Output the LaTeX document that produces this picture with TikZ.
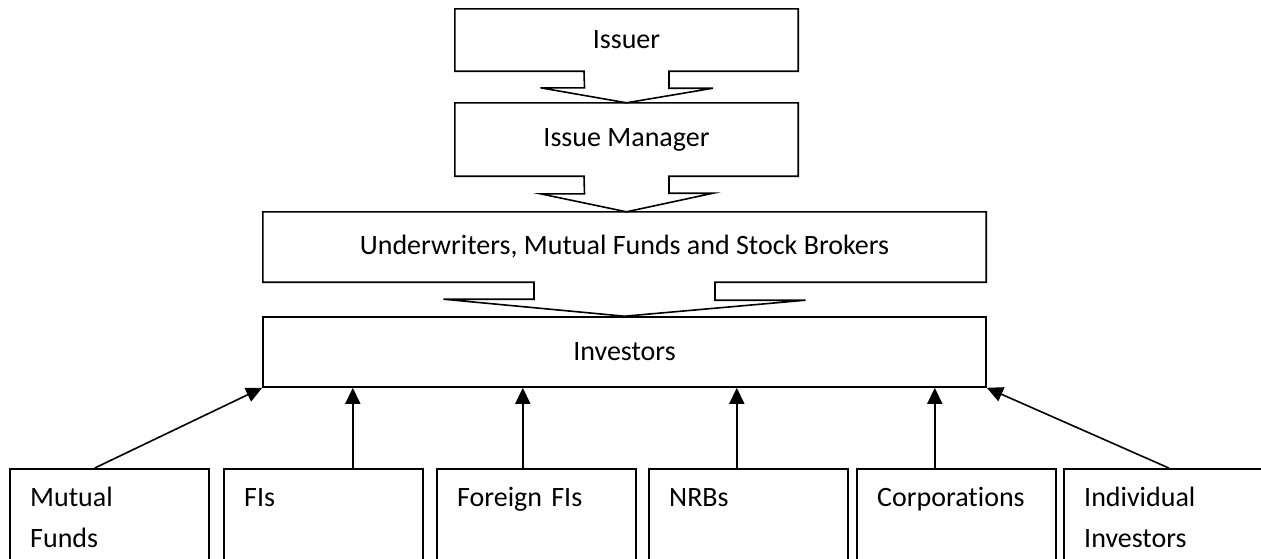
\documentclass[tikz,border=0pt]{standalone}
\usepackage{fontspec}
\setmainfont{Carlito}[Ligatures={NoCommon}]
\usetikzlibrary{arrows.meta,calc}

\begin{document}
\begin{tikzpicture}[x=1pt,y=-1pt,
    stage/.style={minimum height=70pt, minimum width=723pt, inner sep=0pt, font=\fontsize{28}{34}\selectfont},
    callout/.style={line width=1.6pt, line join=miter},
    member/.style={draw, line width=1.6pt, anchor=north west, minimum width=199pt, minimum height=110pt, inner sep=0pt},
    memtext/.style={anchor=base west, text width=170pt, align=left, inner sep=0pt, font=\fontsize{28}{41}\selectfont},
    feed/.style={line width=1.6pt, -{Triangle[length=16pt,width=15pt]}}]

        \fill[white] (0,0) rectangle (1261,558);
        \useasboundingbox (0,0) rectangle (1261,558);
        \clip (0,0) rectangle (1261,558);

        % chain of the issue
        \node[stage, minimum width=343pt, minimum height=62pt] (issuer) at (626.5,40) {Issuer};
        \node[stage, minimum width=343pt, minimum height=73pt] (manager) at (626.5,139.5) {Issue Manager};
        \node[stage] (broker) at (624.5,247) {Underwriters, Mutual Funds and Stock Brokers};
        \node[stage, draw, line width=1.6pt] (investors) at (624.5,352) {Investors};

        \draw[callout] (issuer.south west) -- (issuer.north west) -- (issuer.north east) -- (issuer.south east)
            -- ([xshift=42.5pt]issuer.south) -- ++(0,17) -- ++(44,0) -- (manager.north)
            -- ++(-86,-15) -- ++(44,0) -- ([xshift=-42.5pt]issuer.south) -- cycle;

        \draw[callout] (manager.south west) -- (manager.north west) -- (manager.north east) -- (manager.south east)
            -- ([xshift=42.5pt]manager.south) -- ++(0,17) -- ++(44,0) -- (manager.south |- broker.north)
            -- ++(-86,-18) -- ++(44,0) -- ([xshift=-42.5pt]manager.south) -- cycle;

        \draw[callout] (broker.south west) -- (broker.north west) -- (broker.north east) -- (broker.south east)
            -- ([xshift=90.5pt]broker.south) -- ++(0,18) -- ++(90.5,0) -- (investors.north)
            -- ++(-181,-17) -- ++(90.5,0) -- ([xshift=-90.5pt]broker.south) -- cycle;

        % kinds of investors
        \node[member] (mutual) at (9,468) {};
        \node[member] (fis) at (223,468) {};
        \node[member] (foreign) at (436,468) {};
        \node[member] (nrbs) at (648,468) {};
        \node[member] (corp) at (856,468) {};
        \node[member] (indiv) at (1063,468) {};

        \node[memtext] (mutualtxt) at ($(mutual.north west)+(21,38)$) {Mutual\\Funds};
        \node[memtext] (fistxt) at ($(fis.north west)+(21,38)$) {FIs};
        \node[memtext] (foreigntxt) at ($(foreign.north west)+(21,38)$) {Foreign FIs};
        \node[memtext] (nrbstxt) at ($(nrbs.north west)+(21,38)$) {NRBs};
        \node[memtext] (corptxt) at ($(corp.north west)+(21,38)$) {Corporations};
        \node[memtext] (indivtxt) at ($(indiv.north west)+(21,38)$) {Individual\\Investors};

        \coordinate (fisfoot) at ([xshift=29.5pt]fis.north);
        \coordinate (foreignfoot) at ([xshift=-13.5pt]foreign.north);
        \coordinate (nrbsfoot) at ([xshift=-11.5pt]nrbs.north);
        \coordinate (corpfoot) at ([xshift=-21.5pt]corp.north);

        \draw[feed] ([xshift=-14.5pt]mutual.north) -- (investors.south west);
        \draw[feed] (fisfoot) -- (fisfoot |- investors.south);
        \draw[feed] (foreignfoot) -- (foreignfoot |- investors.south);
        \draw[feed] (nrbsfoot) -- (nrbsfoot |- investors.south);
        \draw[feed] (corpfoot) -- (corpfoot |- investors.south);
        \draw[feed] ([xshift=5.5pt]indiv.north) -- (investors.south east);

\end{tikzpicture}
\end{document}
